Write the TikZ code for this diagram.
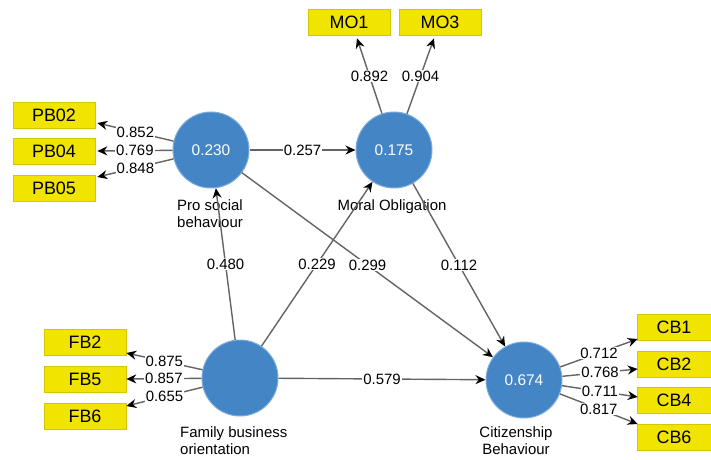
\documentclass[tikz,border=0pt]{standalone}
\usepackage{fontspec}
\setmainfont{Liberation Sans}
\usetikzlibrary{arrows.meta,positioning}

\definecolor{lvblue}{RGB}{68,133,198}
\definecolor{lvrim}{RGB}{125,172,222}
\definecolor{indyel}{RGB}{240,228,0}
\definecolor{indrim}{RGB}{212,198,0}
\definecolor{linkgray}{RGB}{100,100,100}

\begin{document}
\begin{tikzpicture}[
    x=1bp, y=-1bp,
    lv/.style={circle, fill=lvblue, draw=lvrim, line width=1bp, minimum size=76bp, inner sep=0pt, text=white, font=\fontsize{15.5}{17}\selectfont},
    ind/.style={rectangle, fill=indyel, draw=indrim, line width=0.6bp, minimum width=82bp, minimum height=26bp, inner sep=0pt, font=\fontsize{18}{20}\selectfont},
    nm/.style={inner sep=0pt, font=\fontsize{15}{18}\selectfont},
    link/.style={draw=linkgray, line width=1.4bp, -{Stealth[length=10bp,width=9bp,black]}},
    wt/.style={fill=white, inner sep=1bp, font=\fontsize{15}{16}\selectfont}
]
\useasboundingbox (0,0) rectangle (711,460);

% Variables latentes
\node[lv] (ps) at (211,150) {0.230};
\node[lv] (mo) at (394,150) {0.175};
\node[lv] (fb) at (240,378) {};
\node[lv] (cb) at (524,380) {0.674};

% Nombres
\node[nm, anchor=north west, align=left] (psl) at (177,199) {Pro social\\behaviour};
\node[nm] (mol) at (392,207) {Moral Obligation};
\node[nm, anchor=north west, align=left] (fbl) at (180,426) {Family business\\orientation};
\node[nm, anchor=north, align=center] (cbl) at (516,426) {Citizenship\\Behaviour};

% Indicadores
\node[ind] (pb02) at (54,115) {PB02};
\node[ind] (pb04) at (54,151) {PB04};
\node[ind] (pb05) at (54,188) {PB05};
\node[ind] (mo1) at (349,22) {MO1};
\node[ind] (mo3) at (440,22) {MO3};
\node[ind] (fb2) at (85,342) {FB2};
\node[ind] (fb5) at (85,379) {FB5};
\node[ind] (fb6) at (85,416) {FB6};
\node[ind, minimum width=74bp] (cb1) at (674,327) {CB1};
\node[ind, minimum width=74bp] (cb2) at (674,364) {CB2};
\node[ind, minimum width=74bp] (cb4) at (674,400) {CB4};
\node[ind, minimum width=74bp] (cb6) at (674,437) {CB6};

% Cargas
\draw[link] (ps) -- node[wt] {0.852} ([shift={(2,8)}]pb02.east);
\draw[link] (ps) -- node[wt] {0.769} ([shift={(2,0)}]pb04.east);
\draw[link] (ps) -- node[wt] {0.848} ([shift={(2,-11)}]pb05.east);
\draw[link] (mo) -- node[wt] {0.892} ([shift={(8,3)}]mo1.south);
\draw[link] (mo) -- node[wt] {0.904} ([shift={(-6,3)}]mo3.south);
\draw[link] (fb) -- node[wt] {0.875} ([shift={(0,11)}]fb2.east);
\draw[link] (fb) -- node[wt] {0.857} (fb5.east);
\draw[link] (fb) -- node[wt] {0.655} ([shift={(0,-10)}]fb6.east);
\draw[link] (cb) -- node[wt] {0.712} ([shift={(1,12)}]cb1.west);
\draw[link] (cb) -- node[wt] {0.768} ([shift={(1,5)}]cb2.west);
\draw[link] (cb) -- node[wt] {0.711} ([shift={(1,-3)}]cb4.west);
\draw[link] (cb) -- node[wt] {0.817} ([shift={(1,-13)}]cb6.west);

% Modelo estructural
\draw[link] (ps) -- node[wt] {0.257} (mo);
\draw[link] (fb) -- node[wt] {0.480} (ps);
\draw[link] (fb) -- node[wt] {0.229} (mo);
\draw[link] (ps) -- node[wt] {0.299} (cb);
\draw[link] (mo) -- node[wt] {0.112} (cb);
\draw[link] (fb) -- node[wt] {0.579} (cb);
\end{tikzpicture}
\end{document}
